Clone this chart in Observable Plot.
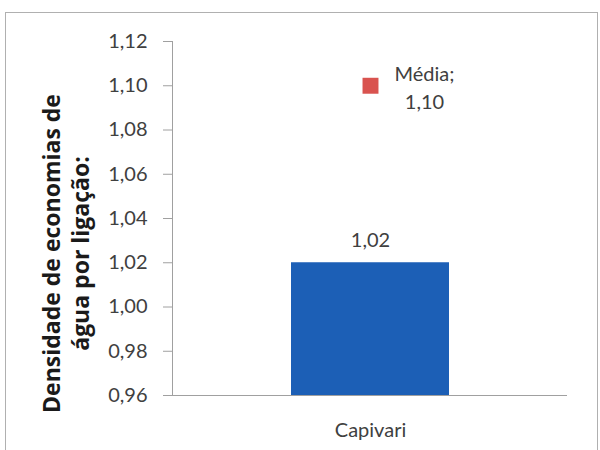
<!DOCTYPE html>
<html>
<head>
<meta charset="utf-8">
<script src="https://cdn.jsdelivr.net/npm/d3@7"></script>
<script src="https://cdn.jsdelivr.net/npm/@observablehq/plot@0.6"></script>
<style>
  html, body { margin: 0; padding: 0; background: #ffffff; }
  #wrap { position: relative; width: 600px; height: 450px; overflow: hidden; }
  #border { position: absolute; left: 5px; top: 12px; width: 591px; height: 450px; border: 1px solid #b0b0b0; pointer-events: none; }
</style>
</head>
<body>
<div id="wrap"><div id="border"></div></div>
<script>
const categories = ["Capivari"];
const values = [1.02];
const meanLabel = "Média";
const meanValue = [1.10];
const yTicks = [0.96, 0.98, 1.00, 1.02, 1.04, 1.06, 1.08, 1.10, 1.12];
const yTitle = "Densidade de economias de\nágua por ligação:";

const locale = d3.formatLocale({decimal: ",", thousands: ".", grouping: [3], currency: ["R$", ""]});
const fmt = locale.format(".2f");

const bars = categories.map((c, i) => ({cat: c, value: values[i]}));
const means = categories.map((c, i) => ({cat: c, value: meanValue[i], label: meanLabel + ";\n" + fmt(meanValue[i])}));

const font = "Lato, 'Open Sans', sans-serif";

const chart = Plot.plot({
  width: 600,
  height: 450,
  marginLeft: 172,
  marginRight: 33,
  marginTop: 41,
  marginBottom: 55,
  style: {fontFamily: font, background: "transparent", color: "#404040"},
  x: {type: "band", domain: categories, padding: 0.4286, label: null},
  y: {domain: [0.96, 1.12], label: null},
  marks: [
    Plot.barY(bars, {x: "cat", y1: 0.96, y2: "value", fill: "#1c5fb6"}),
    Plot.ruleY([0.96], {stroke: "#a0a0a0", strokeWidth: 1}),
    Plot.frame({anchor: "left", stroke: "#a0a0a0"}),
    Plot.axisY({ticks: yTicks, tickFormat: fmt, tickSize: 9, tickPadding: 16, fontSize: 20, stroke: "#a0a0a0", fill: "#404040", label: null}),
    Plot.axisX({tickSize: 0, tickPadding: 27, fontSize: 20, fill: "#404040", label: null}),
    Plot.text(bars, {x: "cat", y: "value", text: d => fmt(d.value), dy: -22, fontSize: 20, fill: "#404040"}),
    Plot.dot(means, {x: "cat", y: "value", symbol: "square", r: 9, fill: "#d9534f", stroke: "none"}),
    Plot.text(means, {x: "cat", y: "value", text: "label", dx: 54, fontSize: 20, lineHeight: 1.4, fill: "#404040", lineAnchor: "middle"}),
    Plot.text([yTitle], {frameAnchor: "left", text: d => d, rotate: -90, dx: -107, dy: 35, textAnchor: "middle", fontFamily: "'Open Sans', sans-serif", fontSize: 23, fontWeight: "bold", lineHeight: 1.25, fill: "#1a1a1a", lineAnchor: "middle"})
  ]
});
document.getElementById("wrap").prepend(chart);
</script>
</body>
</html>
